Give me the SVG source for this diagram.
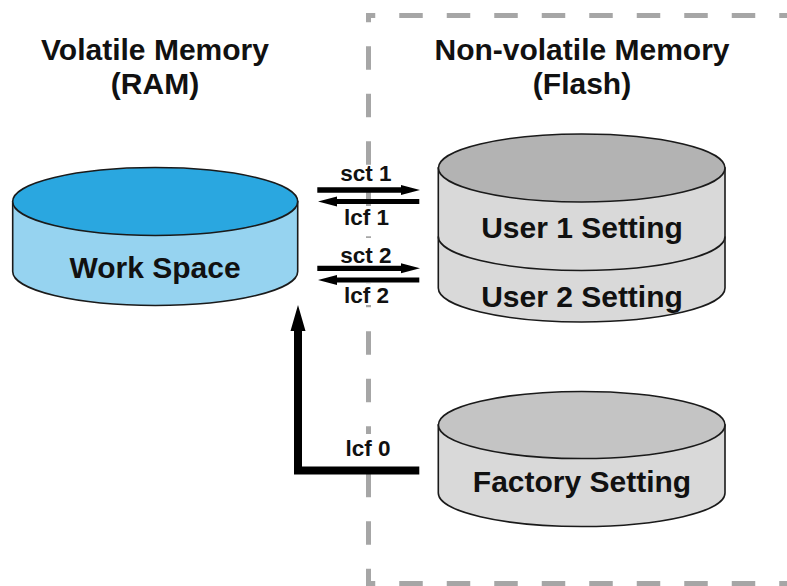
<svg xmlns="http://www.w3.org/2000/svg" width="787" height="586" viewBox="0 0 787 586">
<style>
text{font-family:"Liberation Sans",Arial,sans-serif;font-weight:bold;fill:#111}
.t{font-size:30px;text-anchor:middle}
.l{font-size:22.5px;text-anchor:middle}
.dash{stroke:#a6a6a6;stroke-width:5;fill:none;stroke-dasharray:23.5 24;stroke-dashoffset:14.25}
.cyl{stroke:#1a1a1a;stroke-width:1.6}
.bg{fill:#fff}
</style>
<rect width="787" height="586" fill="#fff"/>
<g id="flash-boundary">
<line class="dash" x1="366" y1="15.5" x2="800" y2="15.5"/>
<line class="dash" x1="366" y1="583.5" x2="800" y2="583.5"/>
<line class="dash" x1="368.5" y1="13" x2="368.5" y2="586"/>
</g>
<g id="titles">
<text class="t" x="155" y="60">Volatile Memory</text>
<text class="t" x="155" y="94">(RAM)</text>
<text class="t" x="582" y="60">Non-volatile Memory</text>
<text class="t" x="582" y="94">(Flash)</text>
</g>
<g id="work-space">
<path class="cyl" fill="#96d3f0" d="M12.7,201.5 V271.5 A142.5,34 0 0 0 297.7,271.5 V201.5 Z"/>
<ellipse class="cyl" fill="#2aa7e0" cx="155.2" cy="201.5" rx="142.5" ry="34"/>
<text class="t" x="155" y="278">Work Space</text>
</g>
<g id="user-settings">
<path class="cyl" fill="#d9d9d9" d="M438.3,168 V288 A143.3,34 0 0 0 725,288 V168 Z"/>
<path class="cyl" fill="none" d="M438.3,236.5 A143.3,34 0 0 0 725,236.5"/>
<ellipse class="cyl" fill="#b3b3b3" cx="581.7" cy="168" rx="143.3" ry="34"/>
<text class="t" x="582" y="238">User 1 Setting</text>
<text class="t" x="582" y="307">User 2 Setting</text>
</g>
<g id="factory-setting">
<path class="cyl" fill="#d9d9d9" d="M438.3,425 V493 A143.3,33.5 0 0 0 725,493 V425 Z"/>
<ellipse class="cyl" fill="#c4c4c4" cx="581.7" cy="425" rx="143.3" ry="33.5"/>
<text class="t" x="582" y="492">Factory Setting</text>
</g>
<g id="connectors">
<rect class="bg" x="338" y="165" width="58" height="21"/>
<rect class="bg" x="338" y="206" width="58" height="26"/>
<rect class="bg" x="338" y="238" width="58" height="27"/>
<rect class="bg" x="338" y="284" width="58" height="21"/>
<rect class="bg" x="338" y="434" width="58" height="30"/>
<path d="M317.3,187.3 H401 V185 L420,190 L401,195 V192.7 H317.3 Z" fill="#000"/>
<path d="M419.3,199 H337 V196.5 L318,201.5 L337,206.5 V204 H419.3 Z" fill="#000"/>
<path d="M317.3,265.7 H401 V263.3 L420,268.3 L401,273.3 V271 H317.3 Z" fill="#000"/>
<path d="M419.3,277.5 H337 V275 L318,280 L337,285 V282.5 H419.3 Z" fill="#000"/>
<path d="M419.3,466.5 H302 V331 H305.5 L298,305 L290.5,331 H294 V474.5 H419.3 Z" fill="#000"/>
<text class="l" x="366" y="181">sct 1</text>
<text class="l" x="366.5" y="225">lcf 1</text>
<text class="l" x="366" y="263">sct 2</text>
<text class="l" x="366.5" y="303">lcf 2</text>
<text class="l" x="368" y="456">lcf 0</text>
</g>
</svg>
